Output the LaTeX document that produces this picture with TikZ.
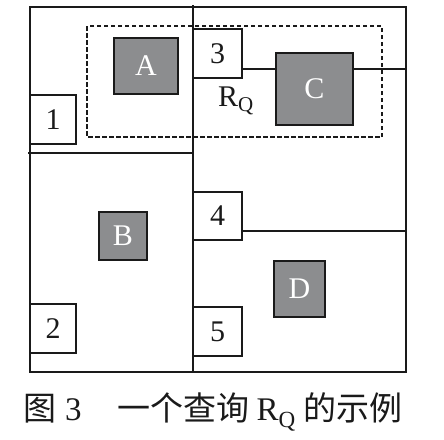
\documentclass[tikz,border=0pt]{standalone}
\usepackage{fontspec}
\setmainfont{Liberation Serif}
\newfontfamily\cjk{Noto Sans CJK SC}
\definecolor{boxgray}{RGB}{140,141,143}
\definecolor{ink}{RGB}{26,26,26}
\begin{document}
\begin{tikzpicture}[x=1pt,y=-1pt,
  every node/.style={font=\fontsize{30}{36}\selectfont, inner sep=0pt},
  wbox/.style={draw=ink, line width=1.4pt, fill=white, text=ink},
  gbox/.style={draw=ink, line width=1.4pt, fill=boxgray, text=white},
  grid/.style={draw=ink, line width=1.5pt},
  query/.style={draw=ink, line width=1.5pt, dash pattern=on 4.5pt off 2.5pt}]
\useasboundingbox (0,0) rectangle (444,439);
% grid
\draw[grid] (30,7) rectangle (406,372);
\draw[grid] (193,5) -- (193,372);
\draw[grid] (28,153) -- (193,153);
% query region
\draw[query] (87,26) rectangle (382,137);
% boxes
\node[wbox, minimum width=46pt, minimum height=49pt] (n1) at (53,119.5) {1};
\node[wbox, minimum width=46pt, minimum height=49pt] (n2) at (53,328.5) {2};
\node[wbox, minimum width=49pt, minimum height=49pt] (n3) at (217.5,53.5) {3};
\node[wbox, minimum width=49pt, minimum height=48pt] (n4) at (217.5,216) {4};
\node[wbox, minimum width=49pt, minimum height=49pt] (n5) at (217.5,331.5) {5};
\node[gbox, minimum width=64pt, minimum height=56pt] (A) at (146,66) {A};
\node[gbox, minimum width=48pt, minimum height=48pt] (B) at (123,236) {B};
\node[gbox, minimum width=77pt, minimum height=72pt] (C) at (314.5,89) {C};
\node[gbox, minimum width=51pt, minimum height=56pt] (D) at (299.5,289) {D};
\node[text=ink] (rq) at (236,101) {R\textsubscript{Q}};
% connectors
\coordinate (cy) at (0,69);
\coordinate (rend) at (407,69);
\draw[grid] (n3.east |- cy) -- (C.west |- cy);
\draw[grid] (C.east |- cy) -- (rend);
\coordinate (rb) at (406,231);
\draw[grid] (n4.east |- rb) -- (rb);
% caption
\node[text=ink, anchor=west, font=\fontsize{33}{40}\selectfont] (cap) at (23,412) {{\cjk 图}\hspace{9pt}3\hspace{36pt}{\cjk 一个查询}\hspace{7pt}R\textsubscript{Q}\hspace{8pt}{\cjk 的示例}};
\end{tikzpicture}
\end{document}
